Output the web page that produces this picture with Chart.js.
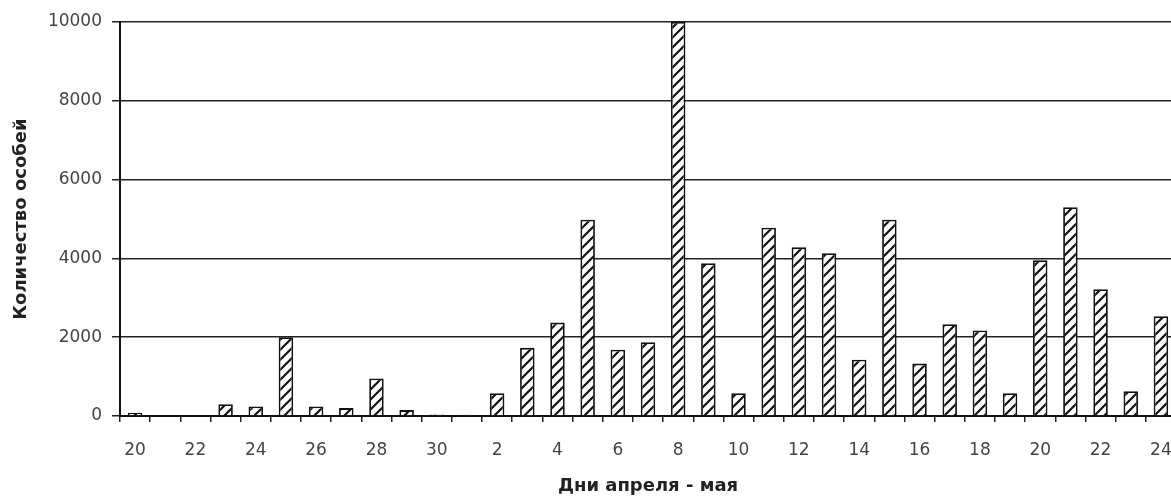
<!DOCTYPE html>
<html>
<head>
<meta charset="utf-8">
<script src="https://cdn.jsdelivr.net/npm/chart.js@4/dist/chart.umd.min.js"></script>
<style>
    html, body { margin: 0; padding: 0; background: #fff; overflow: hidden; }
    #wrap { width: 1176px; height: 498px; }
</style>
</head>
<body>
<div id="wrap"><canvas id="chart"></canvas></div>
<script>
// дни 20-30 апреля, 1-24 мая
const days = [
    '20', '21', '22', '23', '24', '25', '26', '27', '28', '29', '30',
    '1', '2', '3', '4', '5', '6', '7', '8', '9', '10', '11', '12',
    '13', '14', '15', '16', '17', '18', '19', '20', '21', '22', '23', '24',
];
const counts = [
    80, 0, 0, 300, 240, 2000, 240, 200, 950, 150, 40,
    30, 580, 1730, 2370, 4980, 1680, 1870, 10000, 3880, 580, 4780, 4280,
    4130, 1430, 4980, 1330, 2330, 2170, 580, 3950, 5300, 3220, 630, 2530,
];
const yTicks = [0, 2000, 4000, 6000, 8000, 10000];

function hatch() {
    const c = document.createElement('canvas');
    c.width = 10;
    c.height = 10;
    const g = c.getContext('2d');
    g.fillStyle = '#fff';
    g.fillRect(0, 0, 10, 10);
    g.strokeStyle = '#111';
    g.lineWidth = 2.2;
    g.beginPath();
    g.moveTo(-2, 12); g.lineTo(12, -2);
    g.moveTo(-2, 2); g.lineTo(2, -2);
    g.moveTo(8, 12); g.lineTo(12, 8);
    g.stroke();
    return g.createPattern(c, 'repeat');
}

const ctx = document.getElementById('chart').getContext('2d');

new Chart(ctx, {
    type: 'bar',
    data: {
        labels: days,
        datasets: [
            {
                label: 'Количество особей',
                data: counts,
                backgroundColor: hatch(),
                borderColor: '#111',
                borderWidth: 1.8,
                barPercentage: 1,
                categoryPercentage: 0.48,
            },
        ],
    },
    options: {
        responsive: true,
        maintainAspectRatio: false,
        animation: false,
        layout: {
            padding: { top: 22, right: 0, left: 0, bottom: 0 },
        },
        plugins: {
            legend: { display: false },
            tooltip: { enabled: false },
        },
        scales: {
            x: {
                afterFit(scale) {
                    scale.height = 82;
                    scale.paddingLeft = 0;
                    scale.paddingRight = 0;
                },
                grid: {
                    display: true,
                    drawOnChartArea: false,
                    offset: true,
                    color: '#222',
                    lineWidth: 1.5,
                    tickLength: 6,
                },
                border: {
                    color: '#111',
                    width: 2,
                },
                ticks: {
                    autoSkip: false,
                    maxRotation: 0,
                    padding: 18,
                    color: '#444',
                    font: { family: 'DejaVu Sans', size: 17 },
                    callback(value, index) {
                        return index % 2 === 0 ? days[index] : '';
                    },
                },
                title: {
                    display: true,
                    text: 'Дни апреля - мая',
                    color: '#222',
                    font: { family: 'DejaVu Sans', size: 18, weight: 'bold' },
                    padding: { top: 0, bottom: 1 },
                },
            },
            y: {
                min: 0,
                max: 10000,
                afterFit(scale) {
                    scale.width = 120;
                },
                afterBuildTicks(scale) {
                    scale.ticks = yTicks.map((v) => ({ value: v }));
                },
                grid: {
                    color: '#222',
                    lineWidth: 1.5,
                    tickLength: 8,
                },
                border: {
                    color: '#111',
                    width: 2,
                },
                ticks: {
                    padding: 10,
                    color: '#444',
                    font: { family: 'DejaVu Sans', size: 17 },
                    callback(value) {
                        return String(value);
                    },
                },
                title: {
                    display: true,
                    text: 'Количество особей',
                    color: '#222',
                    font: { family: 'DejaVu Sans', size: 18, weight: 'bold' },
                    padding: { top: 11, bottom: 0 },
                },
            },
        },
    },
});
</script>
</body>
</html>
